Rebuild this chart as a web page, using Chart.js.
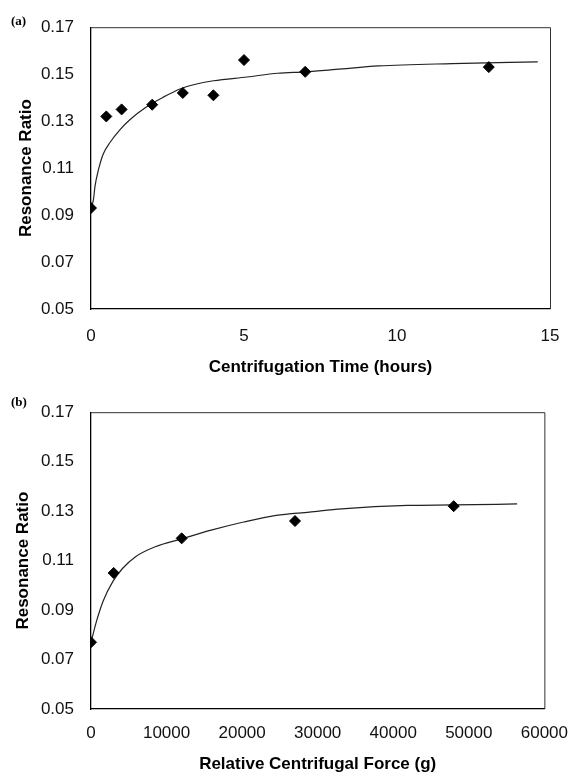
<!DOCTYPE html>
<html>
<head>
<meta charset="utf-8">
<script src="https://cdn.jsdelivr.net/npm/chart.js@4"></script>
<style>
  html, body { margin: 0; padding: 0; background: #fff; }
  body { width: 582px; height: 777px; position: relative; overflow: hidden; }
  .panel { position: absolute; left: 0; width: 582px; }
  .tag { position: absolute; font-family: "Liberation Serif", "DejaVu Serif", serif; font-weight: bold; font-size: 13px; color: #000; }
</style>
</head>
<body>
<div class="panel" style="top:0;height:385px"><canvas id="chartA" width="582" height="385"></canvas></div>
<div class="panel" style="top:385px;height:392px"><canvas id="chartB" width="582" height="392"></canvas></div>
<span class="tag" style="left:11px;top:13px">(a)</span>
<span class="tag" style="left:11px;top:394px">(b)</span>
<script>
// (a) ratio vs centrifugation time
const timeHours = [0, 0.5, 1, 2, 3, 4, 5, 7, 13];
const ratioTime = [0.093, 0.132, 0.135, 0.137, 0.142, 0.141, 0.156, 0.151, 0.153];
const fitTimeX = [0, 0.08, 0.13, 0.24, 0.4, 0.62, 0.95, 1.27, 1.82, 2.36, 2.91, 3.45, 4.0, 5.1, 6.1, 7.0, 8.0, 9.4, 11.8, 14.6];
const fitTimeY = [0.093, 0.0966, 0.1022, 0.1091, 0.116, 0.1209, 0.1264, 0.1306, 0.1361, 0.1402, 0.1437, 0.1458, 0.1472, 0.1488, 0.1504, 0.151, 0.152, 0.1535, 0.1545, 0.1552];
const timeTicks = [0, 5, 10, 15];

// (b) ratio vs relative centrifugal force
const forceG = [0, 3000, 12000, 27000, 48000];
const ratioForce = [0.077, 0.105, 0.119, 0.126, 0.132];
const fitForceX = [0, 740, 1600, 2900, 4200, 5900, 8500, 11900, 15900, 20200, 24500, 28900, 33200, 41900, 47900, 56400];
const fitForceY = [0.0769, 0.0856, 0.0936, 0.1016, 0.1069, 0.1116, 0.1156, 0.1187, 0.1223, 0.1256, 0.1283, 0.1296, 0.1309, 0.1323, 0.1325, 0.1329];
const forceTicks = [0, 10000, 20000, 30000, 40000, 50000, 60000];

const ratioTicks = [0.05, 0.07, 0.09, 0.11, 0.13, 0.15, 0.17];

const FONT = '"Liberation Sans", Arial, sans-serif';

const frame = {
  id: 'frame',
  afterDatasetsDraw(chart) {
    const a = chart.chartArea;
    const ctx = chart.ctx;
    ctx.save();
    ctx.strokeStyle = '#333';
    ctx.lineWidth = 1;
    ctx.beginPath();
    ctx.moveTo(a.left, a.top + 0.5);
    ctx.lineTo(a.right + 0.5, a.top + 0.5);
    ctx.lineTo(a.right + 0.5, a.bottom);
    ctx.stroke();
    ctx.restore();
  }
};

function pairs(xs, ys) {
  return xs.map((x, i) => ({ x: x, y: ys[i] }));
}

function makeChart(id, cfg) {
  return new Chart(document.getElementById(id), {
    type: 'scatter',
    data: {
      datasets: [
        {
          label: 'data',
          data: pairs(cfg.px, cfg.py),
          pointStyle: 'rectRot',
          pointRadius: 5.5,
          backgroundColor: '#000',
          borderColor: '#000',
          borderWidth: 1,
          showLine: false,
          order: 0,
        },
        {
          label: 'fit',
          data: pairs(cfg.fx, cfg.fy),
          showLine: true,
          borderColor: '#222',
          borderWidth: 1.2,
          pointRadius: 0,
          cubicInterpolationMode: 'monotone',
          order: 1,
        }
      ]
    },
    options: {
      responsive: false,
      animation: false,
      layout: { padding: { top: cfg.top, right: cfg.right, left: 0, bottom: 0 } },
      plugins: { legend: { display: false }, tooltip: { enabled: false } },
      scales: {
        x: {
          type: 'linear',
          min: cfg.xTicks[0],
          max: cfg.xTicks[cfg.xTicks.length - 1],
          afterBuildTicks: s => { s.ticks = cfg.xTicks.map(v => ({ value: v })); },
          afterFit: s => { s.height = cfg.xHeight; },
          grid: { display: false, drawTicks: false },
          border: { display: true, color: '#000', width: 1.3 },
          ticks: {
            color: '#111',
            padding: cfg.xPad,
            font: { family: FONT, size: 17 },
            maxRotation: 0,
            callback: v => String(v),
          },
          title: {
            display: true,
            text: cfg.xTitle,
            color: '#000',
            font: { family: FONT, size: 17, weight: 'bold' },
            padding: { top: 0, bottom: cfg.xTitlePad },
          }
        },
        y: {
          min: 0.05,
          max: 0.17,
          afterBuildTicks: s => { s.ticks = ratioTicks.map(v => ({ value: v })); },
          afterFit: s => { s.width = 91; },
          grid: { display: false, drawTicks: false },
          border: { display: true, color: '#000', width: 1.3 },
          ticks: {
            color: '#111',
            padding: 17,
            font: { family: FONT, size: 17 },
            callback: v => v.toFixed(2),
          },
          title: {
            display: true,
            text: 'Resonance Ratio',
            color: '#000',
            font: { family: FONT, size: 17, weight: 'bold' },
            padding: { top: cfg.yTitlePad, bottom: 0 },
          }
        }
      }
    },
    plugins: [frame]
  });
}

makeChart('chartA', {
  px: timeHours, py: ratioTime, fx: fitTimeX, fy: fitTimeY,
  xTicks: timeTicks, xTitle: 'Centrifugation Time (hours)',
  top: 20, right: 32, xHeight: 76, xPad: 17, xTitlePad: 7, yTitlePad: 16,
});

makeChart('chartB', {
  px: forceG, py: ratioForce, fx: fitForceX, fy: fitForceY,
  xTicks: forceTicks, xTitle: 'Relative Centrifugal Force (g)',
  top: 24, right: 29, xHeight: 68, xPad: 14, xTitlePad: 2, yTitlePad: 13,
});
</script>
</body>
</html>
